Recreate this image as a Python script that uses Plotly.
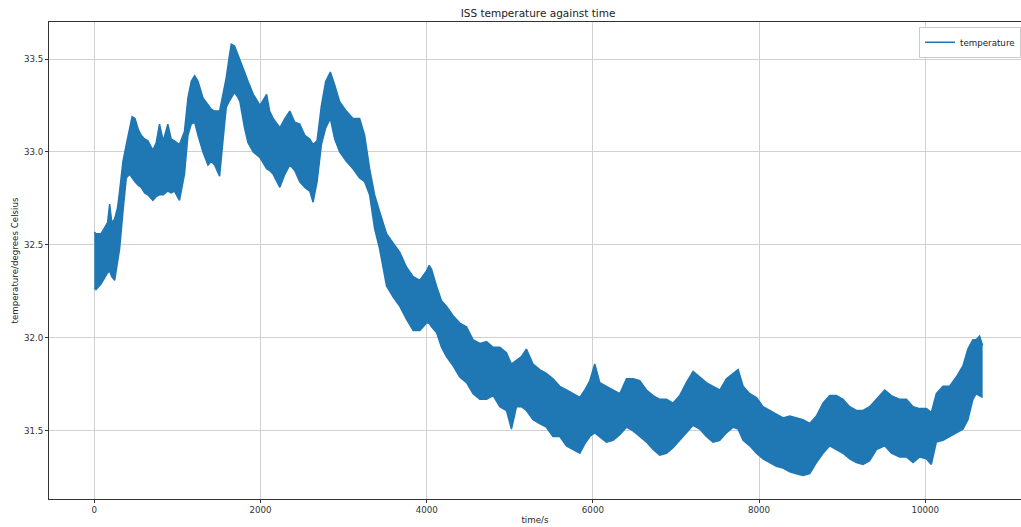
import plotly.graph_objects as go

# Time (s) and the upper / lower envelope of the (very noisy) temperature trace,
# read from the reference picture.
time_s = [0, 20, 80, 160, 185, 210, 245, 280, 305, 345, 385, 425, 455, 490, 530, 565, 605, 645,
          705, 745, 785, 830, 885, 925, 965, 1025, 1085, 1127, 1167, 1208, 1248, 1308, 1368,
          1408, 1448, 1508, 1548, 1588, 1620, 1648, 1688, 1720, 1753, 1808, 1850, 1913, 1994,
          2074, 2110, 2153, 2233, 2293, 2353, 2413, 2473, 2533, 2593, 2633, 2681, 2733, 2785,
          2841, 2893, 2953, 3033, 3113, 3193, 3253, 3313, 3373, 3433, 3517, 3597, 3677, 3758,
          3838, 3918, 3998, 4030, 4058, 4118, 4178, 4238, 4318, 4398, 4479, 4559, 4640, 4720,
          4800, 4880, 4960, 5020, 5080, 5140, 5200, 5280, 5360, 5440, 5520, 5602, 5682, 5763,
          5843, 5903, 5963, 6023, 6083, 6163, 6243, 6324, 6404, 6484, 6564, 6645, 6725, 6805,
          6885, 6965, 7045, 7125, 7206, 7286, 7366, 7446, 7527, 7607, 7688, 7748, 7808, 7888,
          7968, 8048, 8128, 8208, 8289, 8369, 8449, 8529, 8610, 8690, 8770, 8850, 8930, 9010,
          9091, 9171, 9251, 9331, 9412, 9512, 9592, 9693, 9773, 9853, 9933, 10013, 10073,
          10133, 10213, 10293, 10373, 10453, 10513, 10573, 10613, 10653, 10690]

temp_high = [32.57, 32.56, 32.56, 32.62, 32.72, 32.62, 32.64, 32.70, 32.79, 32.95, 33.04, 33.13,
             33.19, 33.18, 33.12, 33.09, 33.07, 33.06, 33.01, 33.05, 33.15, 33.06, 33.15, 33.07,
             33.06, 33.04, 33.11, 33.29, 33.38, 33.41, 33.38, 33.29, 33.25, 33.23, 33.22, 33.22,
             33.31, 33.40, 33.50, 33.58, 33.57, 33.53, 33.49, 33.43, 33.38, 33.31, 33.25, 33.31,
             33.22, 33.18, 33.13, 33.18, 33.22, 33.16, 33.15, 33.09, 33.07, 33.04, 33.06, 33.25,
             33.38, 33.43, 33.36, 33.27, 33.22, 33.18, 33.18, 33.09, 32.91, 32.77, 32.68, 32.56,
             32.51, 32.46, 32.38, 32.33, 32.31, 32.36, 32.39, 32.37, 32.28, 32.20, 32.17, 32.12,
             32.08, 32.06, 31.99, 31.97, 31.98, 31.95, 31.95, 31.92, 31.86, 31.88, 31.90, 31.94,
             31.86, 31.83, 31.81, 31.78, 31.74, 31.72, 31.70, 31.68, 31.72, 31.77, 31.86, 31.76,
             31.74, 31.72, 31.70, 31.78, 31.78, 31.77, 31.72, 31.69, 31.67, 31.67, 31.65, 31.69,
             31.76, 31.82, 31.79, 31.76, 31.74, 31.72, 31.78, 31.81, 31.83, 31.74, 31.70, 31.68,
             31.63, 31.61, 31.59, 31.57, 31.58, 31.57, 31.56, 31.54, 31.58, 31.65, 31.69, 31.69,
             31.67, 31.63, 31.61, 31.61, 31.63, 31.67, 31.72, 31.69, 31.67, 31.67, 31.63, 31.62,
             31.62, 31.60, 31.70, 31.74, 31.74, 31.79, 31.85, 31.94, 31.99, 31.99, 32.01, 31.96]

temp_low = [32.27, 32.26, 32.29, 32.35, 32.36, 32.33, 32.31, 32.40, 32.48, 32.68, 32.86, 32.88,
            32.86, 32.84, 32.82, 32.81, 32.78, 32.77, 32.74, 32.76, 32.77, 32.77, 32.79, 32.78,
            32.79, 32.74, 32.88, 33.09, 33.15, 33.16, 33.09, 33.00, 32.93, 32.95, 32.93, 32.87,
            33.06, 33.24, 33.27, 33.29, 33.32, 33.30, 33.27, 33.13, 33.05, 33.00, 32.97, 32.91,
            32.90, 32.88, 32.81, 32.88, 32.93, 32.90, 32.84, 32.81, 32.79, 32.73, 32.84, 33.04,
            33.13, 33.18, 33.07, 33.00, 32.95, 32.91, 32.86, 32.84, 32.77, 32.59, 32.48, 32.28,
            32.22, 32.17, 32.10, 32.04, 32.04, 32.08, 32.08, 32.06, 32.03, 31.95, 31.90, 31.85,
            31.79, 31.76, 31.70, 31.67, 31.67, 31.69, 31.63, 31.61, 31.51, 31.63, 31.63, 31.61,
            31.56, 31.54, 31.52, 31.47, 31.47, 31.42, 31.40, 31.38, 31.43, 31.47, 31.49, 31.47,
            31.44, 31.45, 31.48, 31.52, 31.50, 31.47, 31.44, 31.40, 31.37, 31.38, 31.41, 31.45,
            31.49, 31.53, 31.51, 31.47, 31.44, 31.45, 31.49, 31.52, 31.51, 31.45, 31.42, 31.38,
            31.35, 31.33, 31.31, 31.30, 31.28, 31.27, 31.26, 31.27, 31.33, 31.38, 31.42, 31.40,
            31.38, 31.35, 31.33, 31.32, 31.34, 31.40, 31.42, 31.38, 31.36, 31.36, 31.33, 31.36,
            31.35, 31.32, 31.44, 31.45, 31.47, 31.49, 31.51, 31.56, 31.67, 31.70, 31.69, 31.68]

x_ticks = [0, 2000, 4000, 6000, 8000, 10000]
y_ticks = [31.5, 32.0, 32.5, 33.0, 33.5]

BLUE = "#1f77b4"
FONT = "DejaVu Sans"

fig = go.Figure()
fig.add_trace(go.Scatter(x=time_s, y=temp_low, mode="lines",
                         line=dict(color=BLUE, width=1.5), showlegend=False,
                         hoverinfo="skip"))
fig.add_trace(go.Scatter(x=time_s, y=temp_high, mode="lines", fill="tonexty",
                         fillcolor=BLUE, line=dict(color=BLUE, width=1.5),
                         showlegend=False, hoverinfo="skip"))
fig.add_trace(go.Scatter(x=[None], y=[None], mode="lines", name="temperature",
                         line=dict(color=BLUE, width=1.5)))

fig.update_layout(
    width=1021, height=527,
    margin=dict(l=49, r=0, t=22, b=28),
    paper_bgcolor="white", plot_bgcolor="white",
    font=dict(family=FONT, size=9, color="#333333"),
    title=dict(text="ISS temperature against time", x=0.527, xanchor="center",
               y=1 - 13 / 527, yanchor="middle",
               font=dict(family=FONT, size=10.5, color="#222222")),
    legend=dict(x=1.0, xanchor="right", y=0.99, yanchor="top",
                bgcolor="white", bordercolor="#cccccc", borderwidth=1,
                font=dict(family=FONT, size=8.7, color="#222222"),
                itemwidth=30, tracegroupgap=0),
    showlegend=True,
)
fig.update_xaxes(
    range=[-545, 11152], tickvals=x_ticks, tickformat="d",
    showgrid=True, gridcolor="#d0d0d0", gridwidth=1,
    showline=True, linecolor="#333333", linewidth=1, mirror=True,
    ticks="outside", ticklen=3, tickcolor="#333333",
    zeroline=False,
    tickfont=dict(family=FONT, size=8.7, color="#333333"),
    title=dict(text="time/s", standoff=2, font=dict(family=FONT, size=8.7, color="#222222")),
    automargin=False,
)
fig.update_yaxes(
    range=[31.134, 33.699], tickvals=y_ticks, tickformat=".1f",
    showgrid=True, gridcolor="#d0d0d0", gridwidth=1,
    showline=True, linecolor="#333333", linewidth=1, mirror=False,
    ticks="outside", ticklen=3, tickcolor="#333333",
    zeroline=False,
    tickfont=dict(family=FONT, size=8.7, color="#333333"),
    title=dict(text="temperature/degrees Celsius", standoff=3,
               font=dict(family=FONT, size=8.7, color="#222222")),
    automargin=False,
)

fig.write_html("out.html")
